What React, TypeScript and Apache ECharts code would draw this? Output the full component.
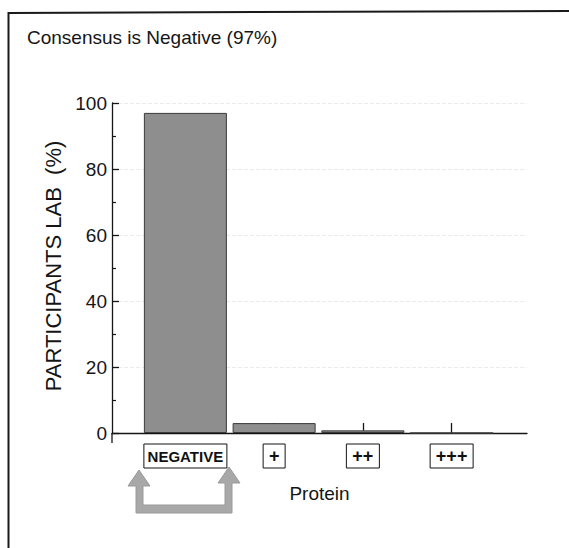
import React, { useEffect, useRef } from "react";
import * as echarts from "echarts";

const categories = ["NEGATIVE", "+", "++", "+++"];
const values = [97, 3, 0.8, 0];
const yTicks = [0, 20, 40, 60, 80, 100];
const titleText = "Consensus is Negative (97%)";
const xName = "Protein";
const yName = "PARTICIPANTS LAB  (%)";

const FONT = "'Liberation Sans', Arial, Helvetica, sans-serif";
const boxWidths = [83, 22, 33, 43];
const boxFont = [15, 18, 18, 18];

export default function App() {
  const ref = useRef<HTMLDivElement>(null);
  useEffect(() => {
    if (!ref.current) return;
    const chart = echarts.init(ref.current, undefined, { renderer: "svg" });
    const rich: Record<string, any> = {};
    categories.forEach((c, i) => {
      rich["b" + i] = {
        width: boxWidths[i],
        height: 24,
        lineHeight: 24,
        align: "center",
        borderColor: "#151515",
        borderWidth: 1,
        fontSize: boxFont[i],
        fontWeight: "bold",
        fontFamily: "'Liberation Sans Narrow', " + FONT,
        color: "#111",
      };
    });
    chart.setOption({
      animation: false,
      backgroundColor: "#fff",
      title: {
        text: titleText,
        left: 27,
        top: 28,
        padding: 0,
        textStyle: { fontSize: 19, fontWeight: "normal", color: "#151515", fontFamily: FONT },
      },
      grid: [
        { left: 112, top: 103, width: 415, height: 330 },
        { left: 141, top: 103, width: 355, height: 330 },
      ],
      xAxis: [
        {
          type: "value",
          gridIndex: 0,
          min: 0,
          max: 1,
          offset: 10,
          axisLine: { show: true, lineStyle: { color: "#151515", width: 1.3 } },
          axisTick: { show: false },
          axisLabel: { show: false },
          splitLine: { show: false },
          name: xName,
          nameLocation: "middle",
          nameGap: 41,
          nameTextStyle: { fontSize: 19, color: "#151515", fontFamily: FONT },
        },
        {
          type: "category",
          gridIndex: 1,
          data: categories,
          offset: 10,
          axisLine: { show: false },
          axisTick: {
            show: true,
            inside: true,
            length: 10,
            alignWithLabel: true,
            lineStyle: { color: "#151515", width: 1.3 },
          },
          axisLabel: {
            margin: 1,
            interval: 0,
            formatter: (v: string, i: number) => `{b${i}|${v}}`,
            rich,
          },
        },
      ],
      yAxis: [
        {
          type: "value",
          gridIndex: 0,
          min: yTicks[0],
          max: yTicks[yTicks.length - 1],
          interval: 20,
          axisLine: { show: true, lineStyle: { color: "#151515", width: 1.3 } },
          axisTick: { show: true, inside: true, length: 7, lineStyle: { color: "#151515", width: 1.3 } },
          minorTick: { show: true, splitNumber: 2, length: 4, lineStyle: { color: "#151515", width: 1.2 } },
          axisLabel: { fontSize: 19, color: "#151515", margin: 5, fontFamily: FONT },
          splitLine: { show: true, lineStyle: { color: "#ebebeb", type: "dashed", width: 1 } },
        },
        {
          type: "value",
          gridIndex: 1,
          min: 0,
          max: 100,
          show: false,
        },
      ],
      series: [
        {
          type: "bar",
          xAxisIndex: 1,
          yAxisIndex: 1,
          data: values,
          barWidth: 83,
          itemStyle: { color: "#8e8e8e", borderColor: "#3a3a3a", borderWidth: 1 },
        },
      ],
      graphic: [
        {
          type: "text",
          x: 53,
          y: 266,
          rotation: Math.PI / 2,
          style: {
            text: yName,
            fontSize: 22,
            fontFamily: FONT,
            fill: "#151515",
            align: "center",
            verticalAlign: "middle",
          },
          silent: true,
        },
        {
          type: "polyline",
          shape: { points: [[8.5, 548], [8.5, 13], [569, 11]] },
          style: { stroke: "#1a1a1a", lineWidth: 2, fill: "none" },
          silent: true,
        },
        {
          type: "line",
          shape: { x1: 112, y1: 433, x2: 112, y2: 443 },
          style: { stroke: "#151515", lineWidth: 1.3 },
          silent: true,
        },
        {
          type: "polygon",
          shape: {
            points: [
              [128, 486], [139, 470], [150, 486], [143, 486], [143, 505],
              [225, 505], [225, 483], [218, 483], [229, 467], [240, 483],
              [232, 483], [232, 513], [136, 513], [136, 486],
            ],
          },
          style: { fill: "#a8a8a8", stroke: "#9a9a9a", lineWidth: 1 },
          silent: true,
        },
      ],
    });
    return () => chart.dispose();
  }, []);
  return (
    <div
      ref={ref}
      style={{ position: "fixed", left: 0, top: 0, width: 569, height: 548, background: "#fff" }}
    />
  );
}
